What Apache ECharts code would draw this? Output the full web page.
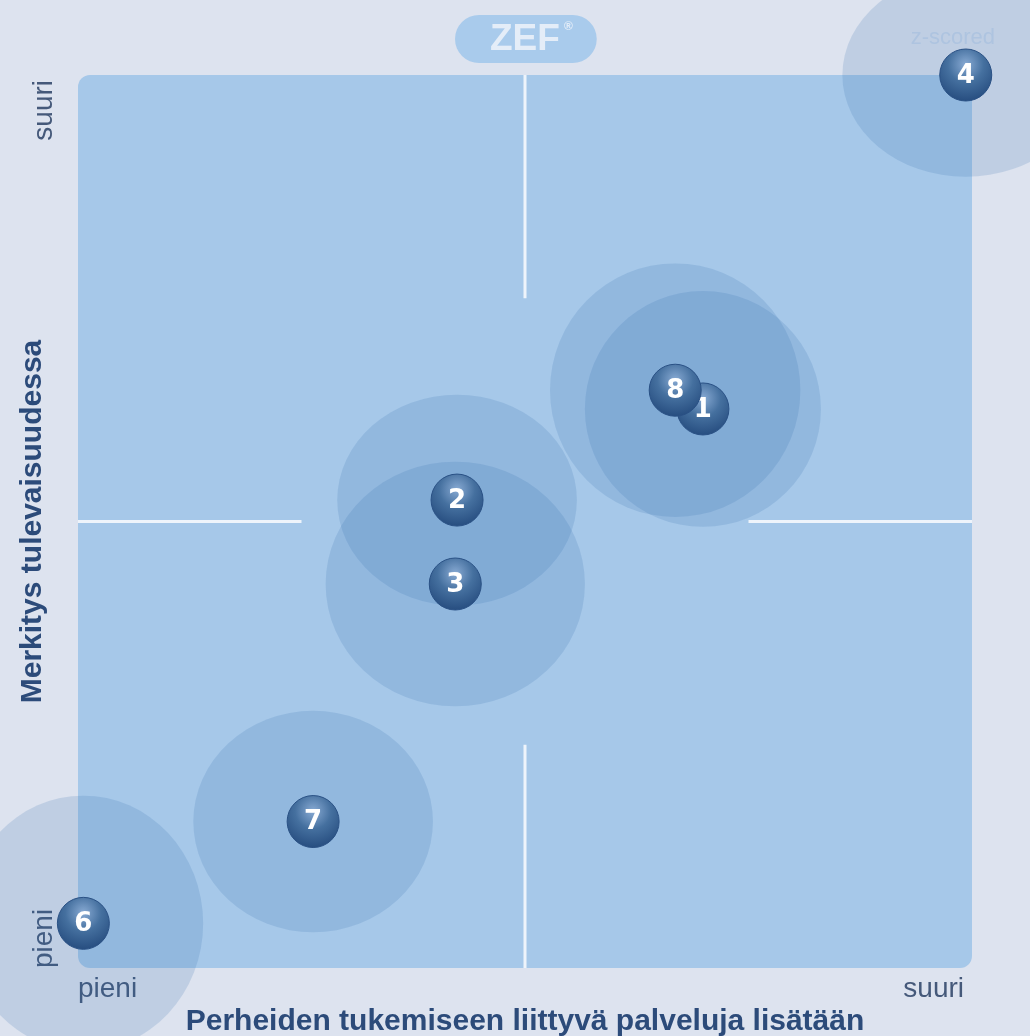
<!DOCTYPE html>
<html>
<head>
<meta charset="utf-8">
<script src="https://cdn.jsdelivr.net/npm/echarts@6/dist/echarts.min.js"></script>
<style>
  html, body { margin: 0; padding: 0; background: #dde3ef; }
  #chart { width: 1030px; height: 1036px; }
</style>
</head>
<body>
<div id="chart"></div>
<script>
// vastaajaryhmät (numerot pallojen päällä)
const ids = ['1', '2', '3', '4', '6', '7', '8'];
// x = Perheiden tukemiseen liittyvä palveluja lisätään, y = Merkitys tulevaisuudessa (0..100)
const xValues = [69.9, 42.4, 42.2, 99.3, 0.6, 26.3, 66.8];
const yValues = [62.6, 52.4, 43.0, 100.0, 5.0, 16.4, 64.7];
// hajonta (säde) akselin yksiköissä
const spreadX = [13.2, 13.4, 14.5, 13.8, 13.4, 13.4, 14.0];
const spreadY = [13.2, 11.8, 13.7, 11.4, 14.3, 12.4, 14.2];
// akselien tekstit min / max
const xTickLabels = ['pieni', 'suuri'];
const yTickLabels = ['pieni', 'suuri'];

const axisMin = 0, axisMax = 100, axisMid = 50;

const points = ids.map((id, i) => [xValues[i], yValues[i], spreadX[i], spreadY[i]]);

// ristiviivat keskeltä: reunasta neljännekseen
const crossLines = [
  [[axisMid, axisMax], [axisMid, 75]],
  [[axisMid, axisMin], [axisMid, 25]],
  [[axisMin, axisMid], [25, axisMid]],
  [[75, axisMid], [axisMax, axisMid]]
];

const chart = echarts.init(document.getElementById('chart'));

const option = {
  backgroundColor: '#dde3ef',
  animation: false,
  title: [{
    text: 'ZEF{r|®}',
    left: 455,
    top: 15,
    backgroundColor: '#a9cbec',
    borderRadius: 24,
    padding: [6, 24, 5, 35],
    textStyle: {
      color: '#e4edf8',
      fontSize: 37,
      fontWeight: 'bold',
      fontFamily: 'Liberation Sans',
      rich: {r: {fontSize: 12, color: '#e4edf8', verticalAlign: 'top', padding: [0, 0, 18, 4]}}
    }
  }, {
    text: 'z-scored',
    right: 30,
    top: 22,
    textStyle: {color: '#aec4e0', fontSize: 22, fontWeight: 'normal', fontFamily: 'Liberation Sans'}
  }],
  grid: {left: 78, right: 58, top: 75, bottom: 68, outerBoundsMode: 'none', containLabel: false},
  xAxis: {
    type: 'value',
    min: axisMin,
    max: axisMax,
    interval: axisMax - axisMin,
    name: 'Perheiden tukemiseen liittyvä palveluja lisätään',
    nameLocation: 'middle',
    nameGap: 39,
    nameMoveOverlap: false,
    nameTextStyle: {color: '#2c4b7a', fontSize: 30, fontWeight: 'bold', fontFamily: 'Liberation Sans'},
    axisLine: {show: false},
    axisTick: {show: false},
    splitLine: {show: false},
    axisLabel: {
      margin: 7,
      color: '#45597a',
      fontSize: 28,
      fontFamily: 'Liberation Sans',
      alignMinLabel: 'left',
      alignMaxLabel: 'right',
      padding: [0, 8, 0, 0],
      formatter: v => v === axisMin ? xTickLabels[0] : xTickLabels[1]
    }
  },
  yAxis: {
    type: 'value',
    min: axisMin,
    max: axisMax,
    interval: axisMax - axisMin,
    name: 'Merkitys tulevaisuudessa',
    nameLocation: 'middle',
    nameGap: 30,
    nameMoveOverlap: false,
    nameTextStyle: {color: '#2c4b7a', fontSize: 30, fontWeight: 'bold', fontFamily: 'Liberation Sans'},
    axisLine: {show: false},
    axisTick: {show: false},
    splitLine: {show: false},
    axisLabel: {
      rotate: 90,
      margin: 20,
      color: '#45597a',
      fontSize: 28,
      fontFamily: 'Liberation Sans',
      alignMinLabel: 'left',
      alignMaxLabel: 'right',
      padding: [0, 5, 0, 0],
      formatter: v => v === axisMin ? yTickLabels[0] : yTickLabels[1]
    }
  },
  series: [{
    // kuvaajan tausta
    type: 'custom',
    z: 0,
    silent: true,
    data: [[axisMin, axisMin]],
    renderItem: (params, api) => {
      const a = api.coord([axisMin, axisMax]);
      const b = api.coord([axisMax, axisMin]);
      return {
        type: 'rect',
        shape: {x: a[0], y: a[1], width: b[0] - a[0], height: b[1] - a[1], r: 12},
        style: {fill: '#a6c8e9'}
      };
    }
  }, {
    // ristiviivat
    type: 'custom',
    z: 1,
    silent: true,
    data: crossLines.map((l, i) => [i]),
    renderItem: (params, api) => {
      const l = crossLines[params.dataIndex];
      const p1 = api.coord(l[0]);
      const p2 = api.coord(l[1]);
      return {
        type: 'line',
        shape: {x1: p1[0], y1: p1[1], x2: p2[0], y2: p2[1]},
        style: {stroke: '#eef4fb', lineWidth: 3}
      };
    }
  }, {
    // hajontaympyrät
    type: 'custom',
    z: 2,
    silent: true,
    clip: false,
    encode: {x: 0, y: 1},
    data: points,
    renderItem: (params, api) => {
      const c = api.coord([api.value(0), api.value(1)]);
      const s = api.size([api.value(2), api.value(3)]);
      return {
        type: 'circle',
        x: c[0],
        y: c[1],
        scaleY: s[1] / s[0],
        shape: {cx: 0, cy: 0, r: s[0]},
        style: {fill: 'rgba(50, 105, 170, 0.17)'}
      };
    }
  }, {
    // numeroidut pallot
    type: 'custom',
    z: 3,
    silent: true,
    clip: false,
    encode: {x: 0, y: 1},
    data: points,
    renderItem: (params, api) => {
      const c = api.coord([api.value(0), api.value(1)]);
      return {
        type: 'group',
        children: [{
          type: 'circle',
          shape: {cx: c[0], cy: c[1], r: 26},
          style: {
            fill: new echarts.graphic.RadialGradient(0.5, 0.3, 0.75, [
              {offset: 0, color: '#88aad3'},
              {offset: 0.45, color: '#45709f'},
              {offset: 1, color: '#22487b'}
            ]),
            stroke: '#2a5185',
            lineWidth: 1
          }
        }, {
          type: 'text',
          x: c[0],
          y: c[1] + 1,
          style: {
            text: ids[params.dataIndex],
            fill: '#ffffff',
            font: 'bold 26px "DejaVu Sans"',
            align: 'center',
            verticalAlign: 'middle'
          }
        }]
      };
    }
  }]
};

chart.setOption(option);
window.addEventListener('resize', () => chart.resize());
</script>
</body>
</html>
